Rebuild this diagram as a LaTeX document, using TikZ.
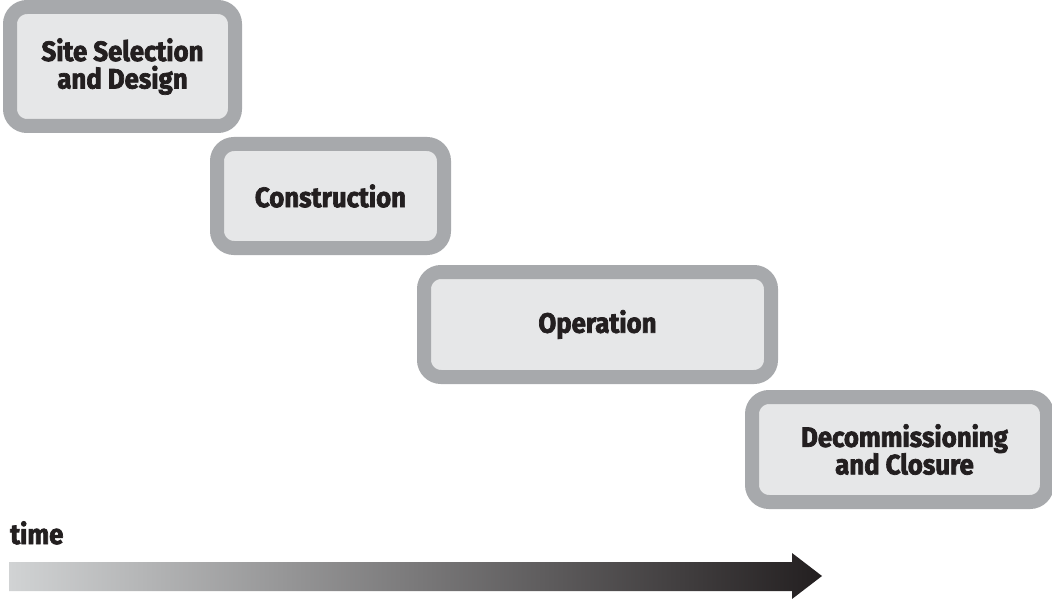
\documentclass[tikz,border=0pt]{standalone}
\usepackage{fontspec}
\usepackage{tikz}
\newfontfamily\stagefont[FakeStretch=0.92,FakeBold=2.5]{Fira Sans Bold}
\definecolor{framegrey}{RGB}{167,169,172}
\definecolor{panelgrey}{RGB}{230,231,232}
\definecolor{inkblack}{RGB}{35,31,32}
\definecolor{barlight}{RGB}{209,211,212}

\begin{document}
\begin{tikzpicture}[x=1pt, y=-1pt, every node/.style={font=\stagefont\fontsize{28}{27.5}\selectfont, text=inkblack},
		stage/.style={draw=framegrey, fill=panelgrey, line width=14pt, rounded corners=17pt, align=center, inner sep=0pt}]
	\useasboundingbox (0,0) rectangle (1052,599);
	\node[stage, minimum width=225pt, minimum height=119pt] (site) at (122.5,66.5) {Site Selection\\and Design};
	\node[stage, minimum width=227pt, minimum height=104pt] (constr) at (330.5,196) {Construction};
	\node[stage, minimum width=347pt, minimum height=105pt] (oper) at (597.5,324.5) {Operation};
	\node[stage, minimum width=295pt, minimum height=105pt] (decom) at (899.5,449.5) {\hspace*{10pt}Decommissioning\\\hspace*{10pt}and Closure};
	% time axis
	\node[anchor=base west, inner sep=0pt] (timelabel) at (10,544) {time};
	\shade[left color=barlight, right color=inkblack] (9,562) -- (792,562) -- (792,553) -- (822,576) -- (792,599) -- (792,591) -- (9,591) -- cycle;
\end{tikzpicture}
\end{document}
